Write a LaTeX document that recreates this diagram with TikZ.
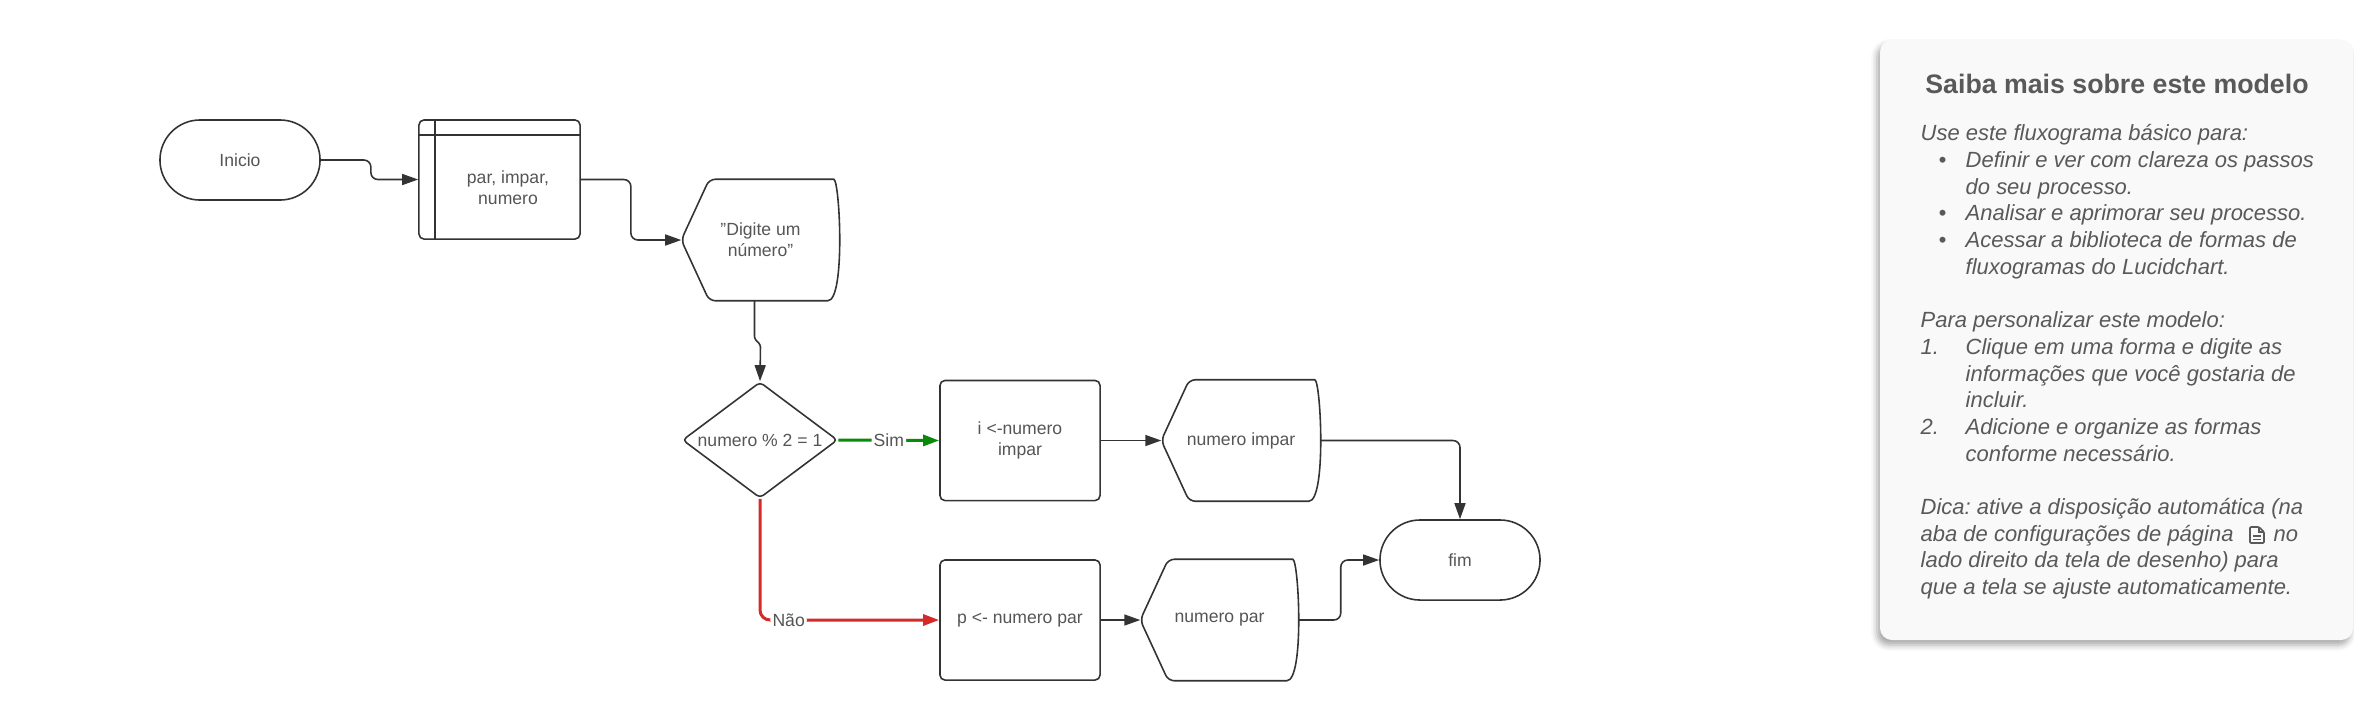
\documentclass[tikz,border=0pt]{standalone}
\usepackage{fontspec}
\setmainfont{Liberation Sans}
\frenchspacing
\usetikzlibrary{arrows.meta,shapes.geometric,shadows.blur}

% outline of a display shape, drawn round a named node
\newcommand{\dispout}[1]{%
	\draw[line] (#1.west) [rounded corners=0.06cm] -- ([xshift=0.28cm]#1.north west) -- ([xshift=-0.12cm]#1.north east) [sharp corners]
		.. controls ([xshift=-0.03cm]#1.north east) and ([yshift=0.3cm]#1.east) .. (#1.east)
		.. controls ([yshift=-0.3cm]#1.east) and ([xshift=-0.03cm]#1.south east) .. ([xshift=-0.12cm]#1.south east)
		[rounded corners=0.06cm] -- ([xshift=0.28cm]#1.south west) -- cycle;}

\begin{document}
\begin{tikzpicture}[x=0.01cm,y=-0.01cm,
	line/.style={draw=lineg, line width=0.45pt},
	flow/.style={line, rounded corners=0.07cm, -{Triangle[length=0.16cm,width=0.11cm]}},
	txt/.style={text=textg, font=\fontsize{5}{6}\selectfont, align=center},
	term/.style={line, txt, rounded corners=0.4cm, minimum width=1.6cm, minimum height=0.8cm},
	proc/.style={line, txt, rounded corners=0.05cm, minimum width=1.6cm, minimum height=1.2cm},
	disp/.style={txt, minimum height=1.2cm, inner sep=0pt},
	decision/.style={line, txt, shape=diamond, inner sep=0pt, rounded corners=0.04cm, minimum width=1.55cm, minimum height=1.16cm},
	lbl/.style={txt, fill=white, inner sep=0.6pt},
	note/.style={anchor=base west, text=noteg, font=\fontsize{6.25}{7.6}\selectfont\itshape, inner sep=0pt}]

		\definecolor{lineg}{HTML}{333333}
		\definecolor{textg}{HTML}{555555}
		\definecolor{noteg}{HTML}{595959}
		\definecolor{panelg}{HTML}{F9F9F9}
		\definecolor{simg}{HTML}{0A8A0A}
		\definecolor{naor}{HTML}{D42A2A}

		\useasboundingbox (0,0) rectangle (2354,720);

		% flowchart
		\node[term] (ini) at (240,160) {Inicio};
		\node[proc, minimum width=1.61cm, minimum height=1.19cm] (var) at (499.5,179.5) {};
			\draw[line] ([xshift=0.17cm]var.north west) -- ([xshift=0.17cm]var.south west);
			\draw[line] ([yshift=-0.16cm]var.north west) -- ([yshift=-0.16cm]var.north east);
			\node[txt] (vartxt) at (508,187.5) {par, impar,\\numero};
		\node[disp, minimum width=1.57cm] (dnum) at (760.5,240) {"Digite um\\número"};
			\dispout{dnum}
		\node[decision] (dec) at (760,440) {\makebox[0pt]{numero \% 2 = 1}};
		\node[proc] (iodd) at (1020,440.5) {i <-numero\\impar};
		\node[disp, minimum width=1.58cm] (dodd) at (1241,440.5) {numero impar};
			\dispout{dodd}
		\node[proc] (peven) at (1020,620) {p <- numero par};
		\node[disp, minimum width=1.57cm] (deven) at (1219.5,620) {numero par};
			\dispout{deven}
		\node[term] (fim) at (1460,560) {fim};

		\draw[flow] (ini.east) -- ++(0.5cm,0) |- (var.west);
		\draw[flow] (var.east) -- ++(0.5cm,0) |- (dnum.west);
		\draw[flow, rounded corners=0.025cm] ([xshift=-0.06cm]dnum.south) -- ++(0,-0.38cm) -- ++(0.06cm,-0.06cm) -- (dec.north);
		\draw[flow, draw=simg, line width=0.85pt] (dec.east) -- node[lbl] {Sim} (iodd.west);
		\draw[flow, draw=naor, line width=0.85pt, rounded corners=0.1cm] (dec.south) |- node[lbl, pos=0.58] {Não} (peven.west);
		\draw[flow] (iodd.east) -- (dodd.west);
		\draw[flow] (peven.east) -- (deven.west);
		\draw[flow] (dodd.east) -| (fim.north);
		\draw[flow] (deven.east) -- ++(0.42cm,0) |- (fim.west);

		% note panel
		\path[fill=panelg, rounded corners=0.12cm, blur shadow={shadow xshift=-0.03cm, shadow yshift=-0.05cm, shadow blur radius=0.06cm, shadow opacity=35}] (1880,40) rectangle (2353,640);
		\node[anchor=base, text=noteg, inner sep=0pt, font=\fontsize{7.6}{9}\selectfont\bfseries] (title) at (2117,93) {Saiba mais sobre este modelo};
		\node[note] (t1) at (1920,140.7) {Use este fluxograma básico para:};
		\node[note] (b1) at (1938,167.4) {\textbullet};
			\node[note] (t2) at (1965,167.4) {Definir e ver com clareza os passos};
		\node[note] (t3) at (1965,194.1) {do seu processo.};
		\node[note] (b2) at (1938,220.8) {\textbullet};
			\node[note] (t4) at (1965,220.8) {Analisar e aprimorar seu processo.};
		\node[note] (b3) at (1938,247.5) {\textbullet};
			\node[note] (t5) at (1965,247.5) {Acessar a biblioteca de formas de};
		\node[note] (t6) at (1965,274.2) {fluxogramas do Lucidchart.};
		\node[note] (t7) at (1920,327.6) {Para personalizar este modelo:};
		\node[note] (n1) at (1920,354.3) {1.};
			\node[note] (t8) at (1965,354.3) {Clique em uma forma e digite as};
		\node[note] (t9) at (1965,381) {informações que você gostaria de};
		\node[note] (t10) at (1965,407.7) {incluir.};
		\node[note] (n2) at (1920,434.4) {2.};
			\node[note] (t11) at (1965,434.4) {Adicione e organize as formas};
		\node[note] (t12) at (1965,461.1) {conforme necessário.};
		\node[note] (t13) at (1920,514.5) {Dica: ative a disposição automática (na};
		\node[note] (t14) at (1920,541.2) {aba de configurações de página};
			% page icon
			\draw[noteg, line width=0.45pt, rounded corners=0.01cm] (2250,527) -- (2259,527) -- (2264,532) -- (2264,543) -- (2250,543) -- cycle;
			\draw[noteg, line width=0.45pt] (2259,527) -- (2259,532) -- (2264,532);
			\draw[noteg, line width=0.45pt] (2253,536) -- (2261,536) (2253,539.5) -- (2261,539.5);
			\node[note] (t15) at (2273,541.2) {no};
		\node[note] (t16) at (1920,567.9) {lado direito da tela de desenho) para};
		\node[note] (t17) at (1920,594.6) {que a tela se ajuste automaticamente.};

	\end{tikzpicture}
\end{document}
